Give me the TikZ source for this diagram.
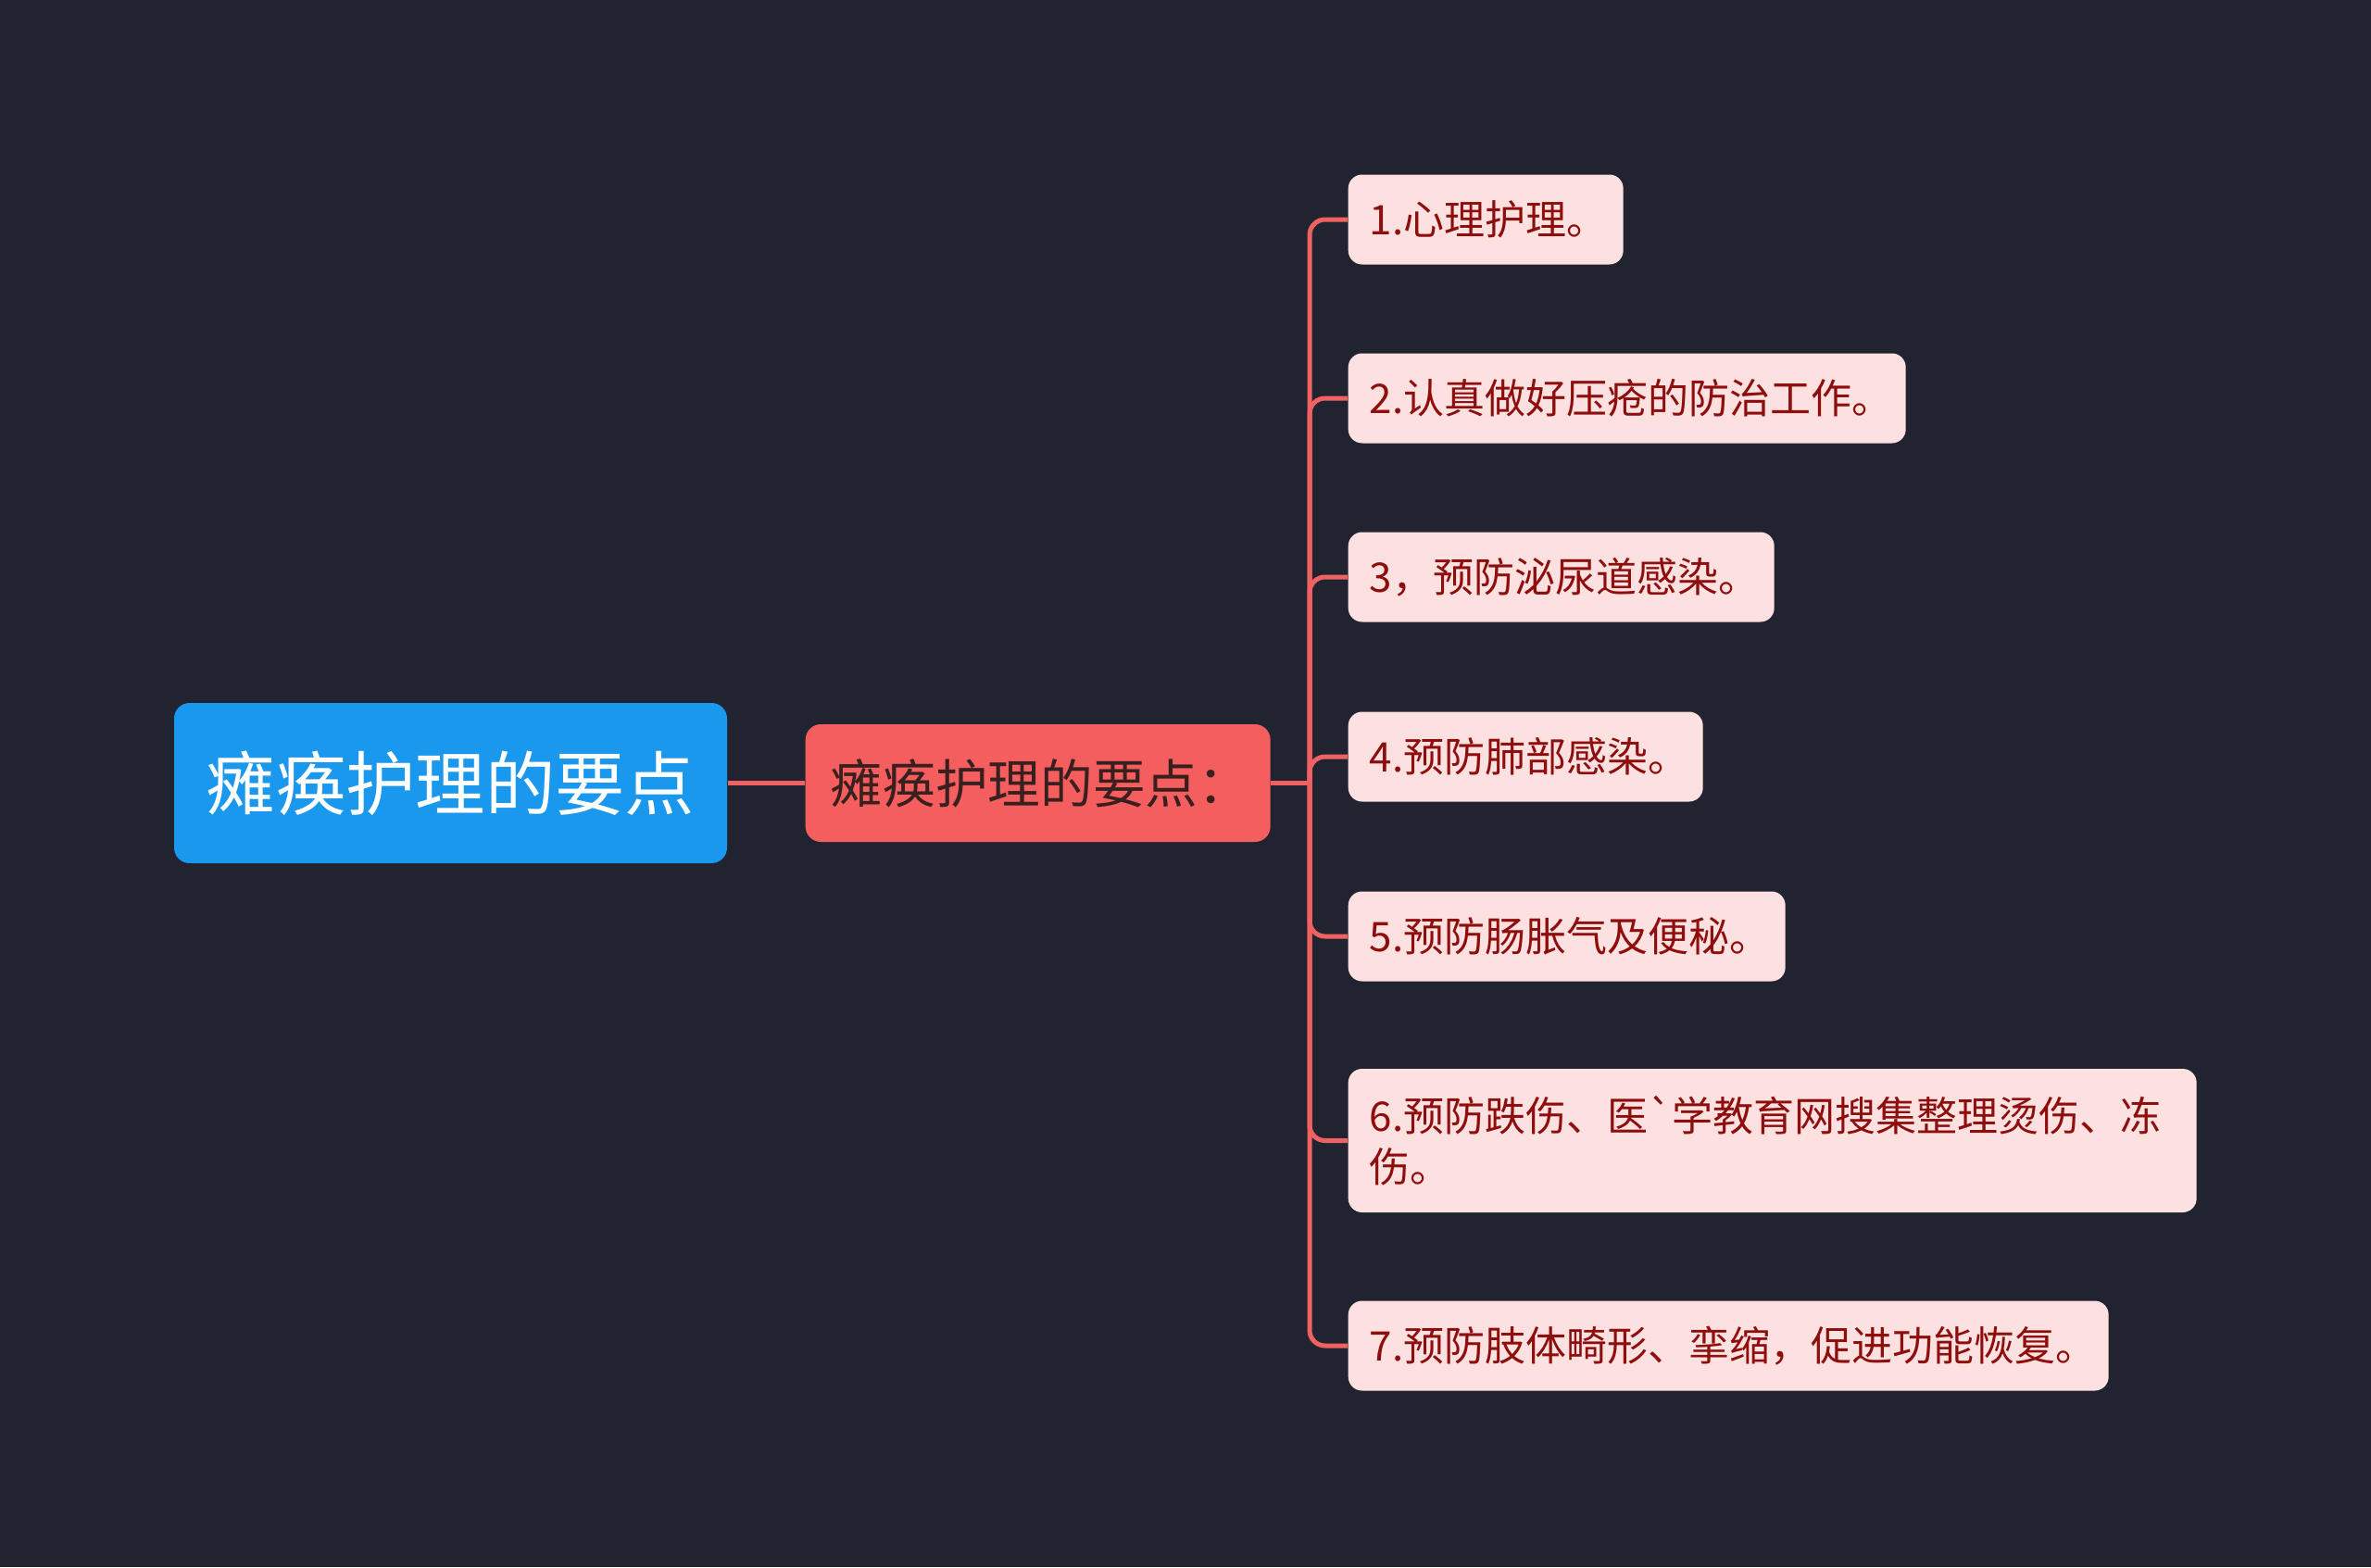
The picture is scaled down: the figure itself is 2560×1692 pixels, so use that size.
\documentclass[tikz,border=0pt]{standalone}
\usepackage{fontspec}
\setmainfont{Noto Sans CJK SC}[Ligatures=TeXOff]
\definecolor{bg}{HTML}{212430}
\definecolor{rootfill}{HTML}{1A98EE}
\definecolor{subfill}{HTML}{F45E5E}
\definecolor{subtext}{HTML}{3A1F1F}
\definecolor{leaffill}{HTML}{FDE1E1}
\definecolor{leaftext}{HTML}{8E0E0E}
\definecolor{linkc}{HTML}{F06262}
\begin{document}
\begin{tikzpicture}[x=0.3pt,y=-0.3pt,
  rootbox/.style={fill=rootfill,rounded corners=5pt,text=white,font=\fontsize{22.6}{27}\selectfont,
    minimum width=179.1pt,minimum height=51.9pt,inner sep=0pt,align=center},
  subbox/.style={fill=subfill,rounded corners=5pt,text=subtext,font=\fontsize{17}{21}\selectfont,
    minimum width=150.6pt,minimum height=38.1pt,inner xsep=8.1pt,inner ysep=0pt,anchor=west,align=left,text width=134.4pt},
  leafbox/.style={fill=leaffill,rounded corners=4.5pt,text=leaftext,font=\fontsize{13.2}{16.6}\selectfont,
    minimum height=29.1pt,inner xsep=6.9pt,inner ysep=0pt,anchor=west,align=left},
  link/.style={draw=linkc,line width=1.5pt},
  branch/.style={link,rounded corners=5pt}
]
\fill[bg] (0,0) rectangle (2560,1692);
\useasboundingbox (0,0) rectangle (2560,1692);

\node[rootbox] (root) at (486.5,845.5) {瘫痪护理的要点};
\node[subbox] (sub) at (869,845.5) {瘫痪护理的要点：};

\node[leafbox,text width=75.3pt] (l1) at (1455,237) {1.心理护理。};
\node[leafbox,text width=166.8pt] (l2) at (1455,430) {2.认真做好压疮的防治工作。};
\node[leafbox,text width=124.2pt] (l3) at (1455,623) {3，预防泌尿道感染。};
\node[leafbox,text width=101.1pt] (l4) at (1455,817) {4.预防肺部感染。};
\node[leafbox,text width=127.8pt] (l5) at (1455,1011) {5.预防肠胀气及便秘。};
\node[leafbox,text width=261pt,minimum height=46.5pt] (l6) at (1455,1231.5) {6.预防跌伤、医`学教育网搜集整理烫伤、冻\\伤。};
\node[leafbox,text width=232.5pt] (l7) at (1455,1453) {7.预防肢体畸形、挛缩，促进功能恢复。};

\coordinate (j) at (1414,845.5);
\draw[link] (root.east) -- (sub.west);
\draw[link] (sub.east) -- (j);
\foreach \n in {l1,l2,l3,l4,l5,l6,l7}{
  \draw[branch] (j) |- (\n.west);
}
\end{tikzpicture}
\end{document}
